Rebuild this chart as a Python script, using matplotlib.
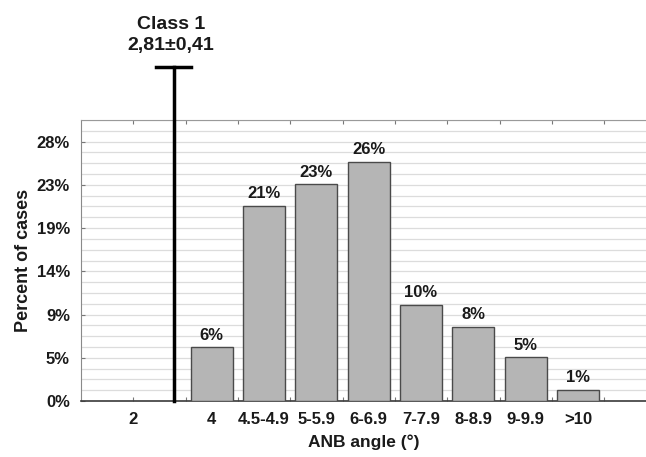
import numpy as np
import matplotlib.pyplot as plt
from matplotlib.ticker import FixedLocator

plt.rcParams['font.family'] = ['Liberation Sans', 'DejaVu Sans']
plt.rcParams['font.weight'] = 'bold'

# data
categories = ['4', '4.5-4.9', '5-5.9', '6-6.9', '7-7.9', '8-8.9', '9-9.9', '>10']
percent = [5.8, 21.1, 23.4, 25.8, 10.4, 8.0, 4.7, 1.2]
bar_labels = ['6%', '21%', '23%', '26%', '10%', '8%', '5%', '1%']
first_label = '2'
ytick_values = [0, 14 / 3, 28 / 3, 14, 56 / 3, 70 / 3, 28]
ytick_labels = ['0%', '5%', '9%', '14%', '19%', '23%', '28%']
class_name = 'Class 1'
class_mean = '2,81'
class_sd = '0,41'

fig = plt.figure(figsize=(6.46, 4.57), dpi=100)
ax = fig.add_axes([0.1254, 0.1225, 0.8746, 0.6149])

x = np.arange(1, len(categories) + 1)
ax.bar(x, percent, width=0.8, color='#b5b5b5', edgecolor='#4a4a4a',
       linewidth=1.0, zorder=3)
for xi, v, lab in zip(x, percent, bar_labels):
    ax.text(xi, v + 0.5, lab, ha='center', va='bottom', fontsize=12,
            fontweight='bold', color='#1a1a1a', zorder=4)

# class 1 marker line
cx = 0.27
ax.plot([cx, cx], [0, 36.1], color='black', lw=2.5, clip_on=False, zorder=5)
ax.plot([cx - 0.33, cx + 0.33], [36.1, 36.1], color='black', lw=2.5,
        clip_on=False, zorder=5)
ax.text(cx - 0.05, 37.5, class_name + '\n' + class_mean + '±' + class_sd,
        ha='center', va='bottom', fontsize=14, fontweight='bold',
        color='#1a1a1a', linespacing=1.25)

ax.set_xlim(-1.5, 9.3)
ax.set_ylim(0, 30.33)

# y axis
ax.yaxis.set_major_locator(FixedLocator(ytick_values))
ax.set_yticklabels(ytick_labels)
ax.set_yticks(np.arange(0, 30.4, 14 / 12), minor=True)
ax.grid(axis='y', which='both', color='#dcdcdc', lw=0.9, zorder=0)

# x axis: tick marks at bin edges, labels at bar centres
ax.xaxis.remove_overlapping_locs = False
edges = np.arange(-0.5, 9, 1.0)
ax.set_xticks(edges)
ax.set_xticklabels([''] * len(edges))
ax.set_xticks(np.concatenate([[-0.5], x]), minor=True)
ax.set_xticklabels([first_label] + categories, minor=True)

ax.tick_params(axis='x', which='major', direction='in', length=3,
               top=True, color='#777777')
ax.tick_params(axis='x', which='minor', length=0, pad=8, labelsize=12)
ax.tick_params(axis='y', which='both', direction='in', length=3,
               color='#777777', labelsize=12, pad=8)
ax.tick_params(axis='y', which='minor', length=0)
for lab in ax.get_xticklabels(minor=True) + ax.get_yticklabels():
    lab.set_fontweight('bold')
    lab.set_color('#1a1a1a')

ax.spines['right'].set_visible(False)
ax.spines['top'].set_color('#9a9a9a')
ax.spines['left'].set_color('#8a8a8a')
ax.spines['bottom'].set_color('#3a3a3a')
ax.spines['bottom'].set_linewidth(1.2)

ax.set_xlabel('ANB angle (°)', fontsize=12.5, fontweight='bold',
              color='#1a1a1a', labelpad=5)
ax.set_ylabel('Percent of cases', fontsize=13, fontweight='bold',
              color='#1a1a1a', labelpad=3)

fig.savefig('out.png', dpi=100)
